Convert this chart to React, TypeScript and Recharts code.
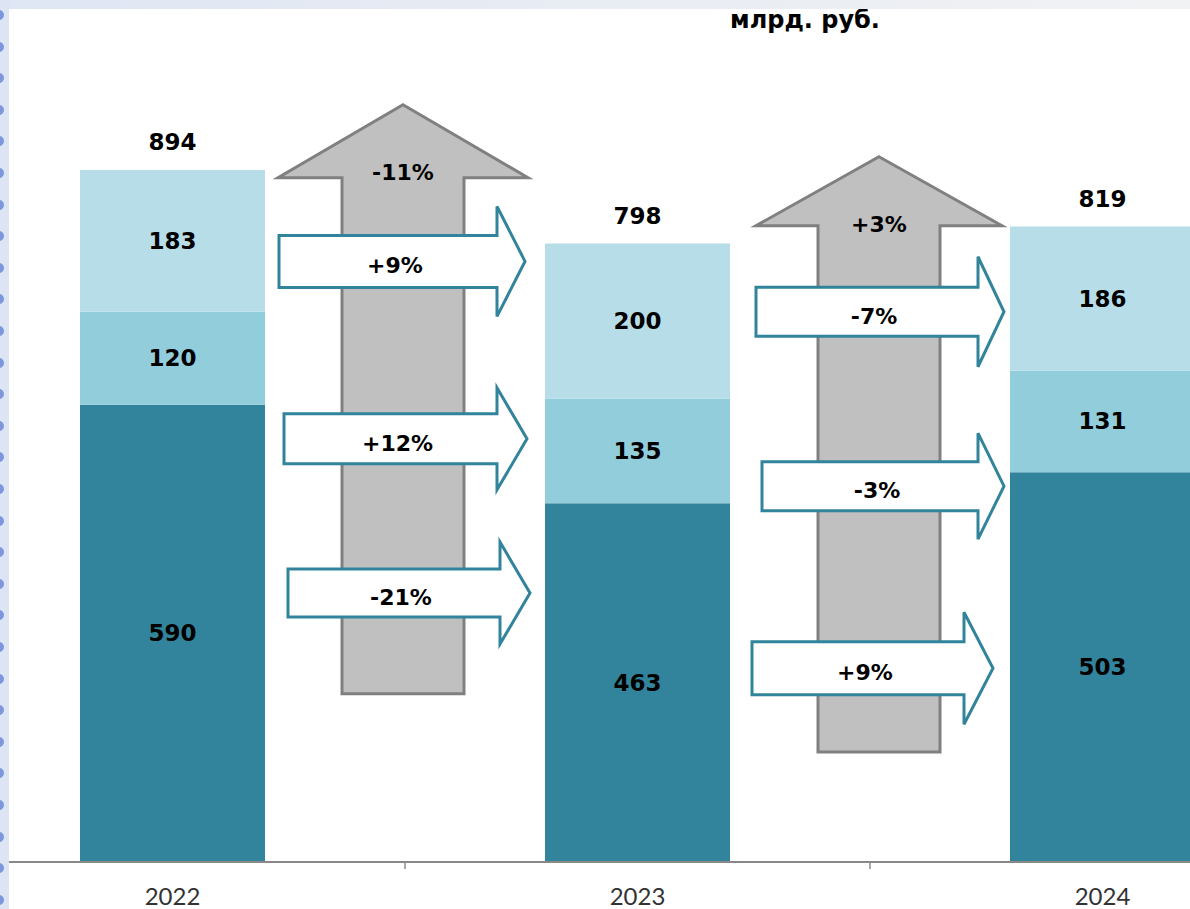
import React from 'react';
import { BarChart, Bar, XAxis, YAxis, LabelList, ReferenceArea } from 'recharts';

// ---------- data ----------
const years = ['2022', '2023', '2024'];
const baseValues = [590, 463, 503];
const midValues = [120, 135, 131];
const topValues = [183, 200, 186];
const totals = [894, 798, 819];

// change between years (overall and per segment)
const totalChangeLabels = ['-11%', '+3%'];
const segmentChangeLabels = [
  ['+9%', '+12%', '-21%'],
  ['-7%', '-3%', '+9%'],
];

// ---------- annotation layout (value levels / pixel offsets) ----------
const DOMAIN_MAX = 1050;
const grayArrowLayout = [
  { dx: -2, shaftHalf: 61, headHalf: 125, tip: 977, headBase: 883, bottom: 217 },
  { dx: 9, shaftHalf: 61, headHalf: 123, tip: 910, headBase: 821, bottom: 142 },
];
const flowArrowLayout = [
  [
    { level: 775, start: -126, neck: 92, tip: 120, body: 26, head: 55 },
    { level: 546, start: -121, neck: 92, tip: 122, body: 25, head: 51 },
    { level: 347, start: -117, neck: 95, tip: 125, body: 24, head: 51 },
  ],
  [
    { level: 710, start: -114, neck: 108, tip: 134, body: 24.5, head: 55 },
    { level: 485, start: -108, neck: 108, tip: 134, body: 24.5, head: 53 },
    { level: 250, start: -118, neck: 94, tip: 123, body: 26.5, head: 56 },
  ],
];

const data = years.map((y, i) => ({
  year: y,
  base: baseValues[i],
  mid: midValues[i],
  top: topValues[i],
  total: totals[i],
}));

const COLORS = { base: '#31849b', mid: '#92cddc', top: '#b7dee8' };
const LABEL_FONT = '"DejaVu Sans", Verdana, sans-serif';

const SegmentLabel = (props: any) => {
  const { x, y, width, height, value } = props;
  return (
    <text
      x={x + width / 2}
      y={y + height / 2 + 8}
      textAnchor="middle"
      fontFamily={LABEL_FONT}
      fontWeight="bold"
      fontSize={23}
      fill="#000"
    >
      {value}
    </text>
  );
};

const TotalLabel = (props: any) => {
  const { x, y, width, value } = props;
  return (
    <text
      x={x + width / 2}
      y={y - 28 + 8}
      textAnchor="middle"
      fontFamily={LABEL_FONT}
      fontWeight="bold"
      fontSize={23}
      fill="#000"
    >
      {value}
    </text>
  );
};

const YearTick = (props: any) => {
  const { x, y, payload } = props;
  const off = payload && typeof payload.offset === 'number' ? payload.offset : 232.5;
  return (
    <g>
      <line x1={x + off} x2={x + off} y1={y - 8} y2={y - 1} stroke="#8c8c8c" strokeWidth={1.5} />
      <text x={x} y={y + 35} textAnchor="middle" fontFamily="Lato, sans-serif" fontSize={24} fill="#333333">
        {payload.value}
      </text>
    </g>
  );
};

const makeArrowShape = (idx: number) => (props: any) => {
  const { x, y, width, height } = props;
  const bx = x; // boundary between categories
  const py = (v: number) => y + height - (height * v) / DOMAIN_MAX;
  const g = grayArrowLayout[idx];
  const cx = bx + g.dx;
  const ty = py(g.tip);
  const hy = py(g.headBase);
  const by = py(g.bottom);
  const grayPath = `M${cx},${ty} L${cx + g.headHalf},${hy} L${cx + g.shaftHalf},${hy} L${cx + g.shaftHalf},${by} L${cx - g.shaftHalf},${by} L${cx - g.shaftHalf},${hy} L${cx - g.headHalf},${hy} Z`;
  return (
    <g>
      <path d={grayPath} fill="#c0c0c0" stroke="#808080" strokeWidth={3} strokeLinejoin="miter" />
      <text
        x={cx}
        y={ty + 67 + 8}
        textAnchor="middle"
        fontFamily={LABEL_FONT}
        fontWeight="bold"
        fontSize={22}
        fill="#000"
      >
        {totalChangeLabels[idx]}
      </text>
      {flowArrowLayout[idx].map((a, j) => {
        const cy = py(a.level);
        const sx = bx + a.start;
        const nx = bx + a.neck;
        const tx = bx + a.tip;
        const d = `M${sx},${cy - a.body} L${nx},${cy - a.body} L${nx},${cy - a.head} L${tx},${cy} L${nx},${cy + a.head} L${nx},${cy + a.body} L${sx},${cy + a.body} Z`;
        return (
          <g key={j}>
            <path d={d} fill="#ffffff" stroke="#31849b" strokeWidth={3} strokeLinejoin="miter" />
            <text
              x={(sx + nx) / 2 + 7}
              y={cy + 4 + 8}
              textAnchor="middle"
              fontFamily={LABEL_FONT}
              fontWeight="bold"
              fontSize={22}
              fill="#000"
            >
              {segmentChangeLabels[idx][j]}
            </text>
          </g>
        );
      })}
    </g>
  );
};

const dots = Array.from({ length: 29 }, (_, i) => i);

export default function App() {
  return (
    <div
      style={{
        position: 'fixed',
        left: 0,
        top: 0,
        width: 1190,
        height: 909,
        overflow: 'hidden',
        background: '#ffffff',
      }}
    >
      <div style={{ position: 'absolute', left: -60, top: 0 }}>
        <BarChart
          width={1395}
          height={909}
          data={data}
          margin={{ top: 48.25, right: 0, left: 0, bottom: 17 }}
          barSize={185}
        >
          <YAxis hide width={0} type="number" domain={[0, DOMAIN_MAX]} allowDataOverflow />
          <XAxis
            dataKey="year"
            height={30}
            interval={0}
            tickLine={false}
            axisLine={{ stroke: '#888888', strokeWidth: 2 }}
            tick={<YearTick />}
          />
          <Bar dataKey="base" stackId="s" fill={COLORS.base} isAnimationActive={false}>
            <LabelList dataKey="base" content={<SegmentLabel />} />
          </Bar>
          <Bar dataKey="mid" stackId="s" fill={COLORS.mid} isAnimationActive={false}>
            <LabelList dataKey="mid" content={<SegmentLabel />} />
          </Bar>
          <Bar dataKey="top" stackId="s" fill={COLORS.top} isAnimationActive={false}>
            <LabelList dataKey="top" content={<SegmentLabel />} />
            <LabelList dataKey="total" content={<TotalLabel />} />
          </Bar>
          {totalChangeLabels.map((_, i) => (
            <ReferenceArea
              key={i}
              x1={years[i + 1]}
              x2={years[i + 1]}
              y1={0}
              y2={DOMAIN_MAX}
              ifOverflow="visible"
              shape={makeArrowShape(i)}
            />
          ))}
        </BarChart>
      </div>
      {/* title fragment */}
      <div
        style={{
          position: 'absolute',
          left: 0,
          width: 1610,
          top: 6,
          textAlign: 'center',
          fontFamily: LABEL_FONT,
          fontWeight: 'bold',
          fontSize: 24,
          lineHeight: '28px',
          color: '#000',
          whiteSpace: 'nowrap',
        }}
      >
        млрд. руб.
      </div>
      {/* top frame strip */}
      <div
        style={{
          position: 'absolute',
          left: 0,
          top: 0,
          width: 1190,
          height: 9,
          background: 'linear-gradient(to right, #dfe6f4, #e8ecf3 50%, #f1f2f4)',
        }}
      />
      {/* left frame strip with dots */}
      <div
        style={{
          position: 'absolute',
          left: 0,
          top: 0,
          width: 9,
          height: 909,
          background: '#dde5f4',
          overflow: 'hidden',
        }}
      >
        {dots.map((i) => (
          <div
            key={i}
            style={{
              position: 'absolute',
              left: -6,
              top: 15 + i * 31.6 - 5,
              width: 10,
              height: 10,
              borderRadius: 5,
              background: '#7c97dd',
            }}
          />
        ))}
      </div>
    </div>
  );
}
